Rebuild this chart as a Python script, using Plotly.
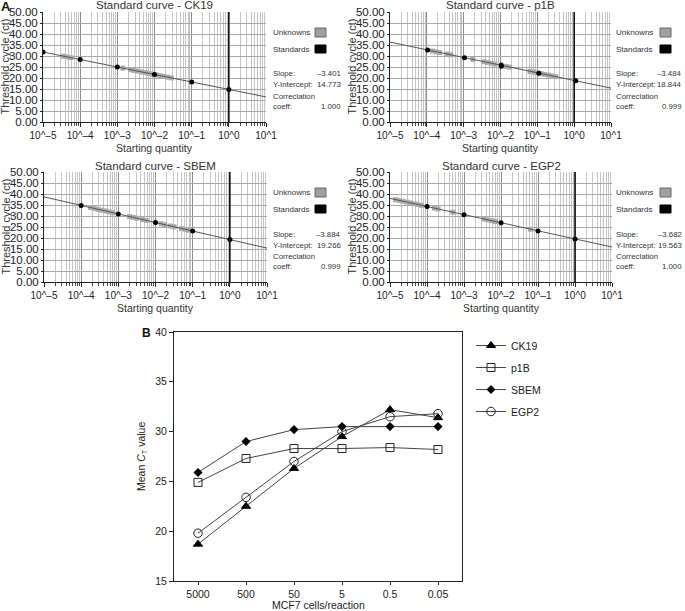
import plotly.graph_objects as go

W, H = 685, 611
FONT = "Liberation Sans, Arial, sans-serif"

# ---------------- Panel A data ----------------
panel_names = ["CK19", "p1B", "SBEM", "EGP2"]
slopes = ["\u20133.401", "\u20133.484", "\u20133.884", "\u20133.682"]
intercepts = ["14.773", "18.844", "19.266", "19.563"]
corr_coeffs = ["1.000", "0.999", "0.999", "1.000"]

line_x = [1e-5, 1e1]
line_ct_ck19 = [31.8, 11.4]
line_ct_p1b = [36.3, 15.4]
line_ct_sbem = [38.7, 15.4]
line_ct_egp2 = [38.0, 15.9]

std_x_ck19 = [1e-5, 1e-4, 1e-3, 1e-2, 1e-1, 1e0]
std_ct_ck19 = [31.8, 28.4, 25.0, 21.6, 18.2, 14.8]
std_x_p1b = [1.05e-4, 1.05e-3, 1.05e-2, 1.05e-2, 1.1e-1, 1.1e0]
std_ct_p1b = [32.7, 29.2, 25.9, 25.3, 22.2, 18.7]
std_x_sbem = [1e-4, 1e-3, 1e-2, 1e-1, 1e0]
std_ct_sbem = [34.8, 30.9, 27.0, 23.2, 19.3]
std_x_egp2 = [1e-4, 1e-3, 1e-2, 1e-1, 1e0]
std_ct_egp2 = [34.3, 30.6, 26.9, 23.2, 19.6]

unk_x_ck19 = [3.55e-5, 4.47e-5, 5.62e-5, 1.41e-3, 2.24e-3, 2.82e-3, 3.55e-3, 4.47e-3,
              5.62e-3, 7.08e-3, 8.91e-3, 1.12e-2, 1.41e-2, 1.78e-2, 2.24e-2, 2.82e-2]
unk_ct_ck19 = [29.9, 29.57, 29.23, 24.47, 23.79, 23.45, 23.11, 22.77,
               22.43, 22.09, 21.75, 21.4, 21.06, 20.73, 20.38, 20.04]
unk_x_p1b = [1.41e-4, 1.78e-4, 2.24e-4, 3.55e-4, 4.47e-4, 1.78e-3, 3.55e-3, 4.47e-3,
             5.62e-3, 7.08e-3, 1.41e-2, 1.78e-2, 6.31e-2, 7.94e-2, 0.1, 0.126,
             0.158, 0.2, 0.251, 0.316]
unk_ct_p1b = [32.26, 31.91, 31.56, 30.86, 30.52, 28.42, 27.38, 27.03,
              26.68, 26.33, 25.29, 24.94, 23.02, 22.68, 22.33, 21.98,
              21.63, 21.28, 20.93, 20.59]
unk_x_sbem = [1.78e-4, 2.24e-4, 2.82e-4, 3.55e-4, 4.47e-4, 5.62e-4, 7.08e-4, 2.0e-3,
              2.51e-3, 3.16e-3, 4.47e-3, 5.62e-3, 1.41e-2, 1.78e-2, 2.51e-2, 3.16e-2,
              5.01e-2, 6.31e-2, 7.94e-2]
unk_ct_sbem = [33.83, 33.44, 33.05, 32.67, 32.28, 31.89, 31.5, 29.75,
               29.36, 28.98, 28.39, 28.0, 26.45, 26.06, 25.48, 25.09,
               24.32, 23.93, 23.54]
unk_x_egp2 = [1.41e-5, 1.78e-5, 2.24e-5, 2.82e-5, 3.55e-5, 4.47e-5, 5.62e-5, 7.08e-5,
              1.58e-4, 2.0e-4, 5.01e-4, 3.55e-3, 4.47e-3, 5.62e-3, 7.08e-3, 6.31e-2]
unk_ct_egp2 = [37.42, 37.05, 36.68, 36.32, 35.95, 35.58, 35.21, 34.84,
               33.55, 33.19, 31.71, 28.58, 28.22, 27.85, 27.48, 23.98]

x_tick_vals = [1e-5, 1e-4, 1e-3, 1e-2, 1e-1, 1e0, 1e1]
x_tick_text = ["10^\u20135", "10^\u20134", "10^\u20133", "10^\u20132", "10^\u20131", "10^0", "10^1"]
y_tick_vals = [0, 5, 10, 15, 20, 25, 30, 35, 40, 45, 50]

# ---------------- Panel B data ----------------
cells = ["5000", "500", "50", "5", "0.5", "0.05"]
ct_ck19 = [18.7, 22.5, 26.3, 29.5, 32.2, 31.4]
ct_p1b = [24.9, 27.3, 28.3, 28.3, 28.4, 28.2]
ct_sbem = [25.9, 29.0, 30.2, 30.5, 30.5, 30.5]
ct_egp2 = [19.8, 23.4, 27.0, 30.0, 31.5, 31.8]


def px(x):
    return x / W


def py(y):
    return 1 - y / H


fig = go.Figure()

# layout of the four standard-curve panels (pixel boxes)
boxes = [(43, 266, 12, 122), (390, 611, 12, 122), (44, 267, 172, 282), (390, 612, 172, 282)]
lines = [line_ct_ck19, line_ct_p1b, line_ct_sbem, line_ct_egp2]
stds = [(std_x_ck19, std_ct_ck19), (std_x_p1b, std_ct_p1b), (std_x_sbem, std_ct_sbem), (std_x_egp2, std_ct_egp2)]
unks = [(unk_x_ck19, unk_ct_ck19), (unk_x_p1b, unk_ct_p1b), (unk_x_sbem, unk_ct_sbem), (unk_x_egp2, unk_ct_egp2)]

minor_vals = [m * 10 ** e for e in range(-5, 1) for m in range(2, 10)]

annotations = []
shapes = []


def ann(x, y, text, size, xanchor="center", yanchor="middle", angle=0, color="#222", bold=False):
    annotations.append(dict(
        x=px(x), y=py(y), xref="paper", yref="paper", text=("<b>%s</b>" % text) if bold else text,
        showarrow=False, xanchor=xanchor, yanchor=yanchor, textangle=angle,
        font=dict(family=FONT, size=size, color=color)))


for i in range(4):
    k = i + 1
    xa = "x" if k == 1 else "x%d" % k
    ya = "y" if k == 1 else "y%d" % k
    x0, x1, y0, y1 = boxes[i]
    fig.add_trace(go.Scatter(x=unks[i][0], y=unks[i][1], mode="markers", xaxis=xa, yaxis=ya,
                             marker=dict(symbol="square", size=5, color="#acacac"),
                             showlegend=False, hoverinfo="skip"))
    fig.add_trace(go.Scatter(x=line_x, y=lines[i], mode="lines", xaxis=xa, yaxis=ya,
                             line=dict(color="#555", width=1), showlegend=False))
    fig.add_trace(go.Scatter(x=stds[i][0], y=stds[i][1], mode="markers", xaxis=xa, yaxis=ya,
                             marker=dict(symbol="circle", size=5, color="black"),
                             showlegend=False))
    xkey = "xaxis" if k == 1 else "xaxis%d" % k
    ykey = "yaxis" if k == 1 else "yaxis%d" % k
    fig.layout[xkey] = dict(
        type="log", range=[-5, 1], domain=[px(x0), px(x1)], anchor=ya, automargin=False,
        tickmode="array", tickvals=x_tick_vals, ticktext=x_tick_text,
        ticks="outside", ticklen=4, tickcolor="#222",
        showgrid=True, gridcolor="#8c8c8c", gridwidth=1,
        minor=dict(tickmode="array", tickvals=minor_vals, showgrid=True, gridcolor="#c4c4c4",
                   ticks="outside", ticklen=3, tickcolor="#444"),
        showline=True, linecolor="#222", linewidth=1, zeroline=False,
        tickfont=dict(family=FONT, size=10, color="#222"))
    fig.layout[ykey] = dict(
        range=[0, 50], domain=[py(y1), py(y0)], anchor=xa, automargin=False,
        tickmode="array", tickvals=y_tick_vals, tickformat=".2f",
        ticks="outside", ticklen=2, tickcolor="#222",
        showgrid=True, gridcolor="#a8a8a8", gridwidth=1,
        showline=True, linecolor="#222", linewidth=1, zeroline=False,
        tickfont=dict(family=FONT, size=11.5, color="#222"))
    # heavy reference line at 10^0
    shapes.append(dict(type="line", xref=xa, yref=ya + " domain", x0=1, x1=1, y0=0, y1=1,
                       line=dict(color="#111", width=1.6)))
    # titles
    cx = (x0 + x1) / 2
    ann(cx, y0 - 6.5, "Standard curve - " + panel_names[i], 11.5, color="#333")
    ann(cx, y1 + 26, "Starting quantity", 10.5, color="#333")
    ann(x0 - 38.5, (y0 + y1) / 2, "Threshold cycle (ct)", 11, angle=-90, color="#333")
    # side legend / statistics
    tx = 271 if i % 2 == 0 else 614
    vx = 343 if i % 2 == 0 else 684
    sx = 315 if i % 2 == 0 else 660
    ann(tx, y0 + 20.5, "Unknowns", 8, xanchor="left", color="#333")
    ann(tx, y0 + 37, "Standards", 8, xanchor="left", color="#333")
    shapes.append(dict(type="rect", xref="paper", yref="paper", x0=px(sx), x1=px(sx + 11),
                       y0=py(y0 + 25), y1=py(y0 + 16), fillcolor="#a0a0a0",
                       line=dict(color="#666", width=1)))
    shapes.append(dict(type="rect", xref="paper", yref="paper", x0=px(sx), x1=px(sx + 11),
                       y0=py(y0 + 41), y1=py(y0 + 33), fillcolor="#000",
                       line=dict(color="#000", width=1)))
    ann(tx, y0 + 62, "Slope:", 7.8, xanchor="left", color="#333")
    ann(vx, y0 + 62, slopes[i], 7.8, xanchor="right", color="#333")
    ann(tx, y0 + 73, "Y-Intercept:", 7.8, xanchor="left", color="#333")
    ann(vx, y0 + 73, intercepts[i], 7.8, xanchor="right", color="#333")
    ann(tx, y0 + 84.5, "Correclation", 7.8, xanchor="left", color="#333")
    ann(tx, y0 + 94.5, "coeff:", 7.8, xanchor="left", color="#333")
    ann(vx, y0 + 94.5, corr_coeffs[i], 7.8, xanchor="right", color="#333")

# ---------------- Panel B ----------------
series = [
    ("CK19", ct_ck19, dict(symbol="triangle-up", size=8, color="black", line=dict(color="black", width=1))),
    ("p1B", ct_p1b, dict(symbol="square-open", size=8, color="#222", line=dict(width=1))),
    ("SBEM", ct_sbem, dict(symbol="diamond", size=7, color="black", line=dict(color="black", width=0))),
    ("EGP2", ct_egp2, dict(symbol="circle-open", size=8.5, color="#222", line=dict(width=1))),
]
for name, vals, mk in series:
    fig.add_trace(go.Scatter(x=cells, y=vals, mode="lines+markers", name=name,
                             xaxis="x5", yaxis="y5", legendgroup=name,
                             line=dict(color="#444", width=1), marker=mk))

fig.layout["xaxis5"] = dict(
    type="category", range=[-0.5, 5.5], domain=[px(174), px(462)], anchor="y5", automargin=False,
    ticks="outside", ticklen=3, tickcolor="#222", showgrid=False,
    showline=True, linecolor="#222", linewidth=1, mirror=True, zeroline=False,
    tickfont=dict(family=FONT, size=10.5, color="#222"))
fig.layout["yaxis5"] = dict(
    range=[15, 40], dtick=5, domain=[py(581), py(332)], anchor="x5", automargin=False,
    ticks="outside", ticklen=4, tickcolor="#222", showgrid=False,
    showline=True, linecolor="#222", linewidth=1, mirror=True, zeroline=False,
    tickfont=dict(family=FONT, size=10.5, color="#222"))

ann(318, 605, "MCF7 cells/reaction", 10.5)
ann(142, 457, "Mean <i>C</i><sub>T</sub> value", 10.5, angle=-90)
ann(6, 6, "A", 13, bold=True, color="#111")
ann(146, 333, "B", 12, bold=True, color="#111")

fig.update_layout(
    width=W, height=H, margin=dict(l=0, r=0, t=0, b=0, pad=0, autoexpand=False),
    paper_bgcolor="white", plot_bgcolor="white",
    annotations=annotations, shapes=shapes,
    showlegend=True,
    legend=dict(x=px(471), y=py(331), xanchor="left", yanchor="top",
                font=dict(family=FONT, size=10.5, color="#222"),
                tracegroupgap=3, bgcolor="rgba(0,0,0,0)", borderwidth=0),
)

fig.write_html("out.html", config={"displayModeBar": False},
               post_script="document.body.style.margin='0';")
